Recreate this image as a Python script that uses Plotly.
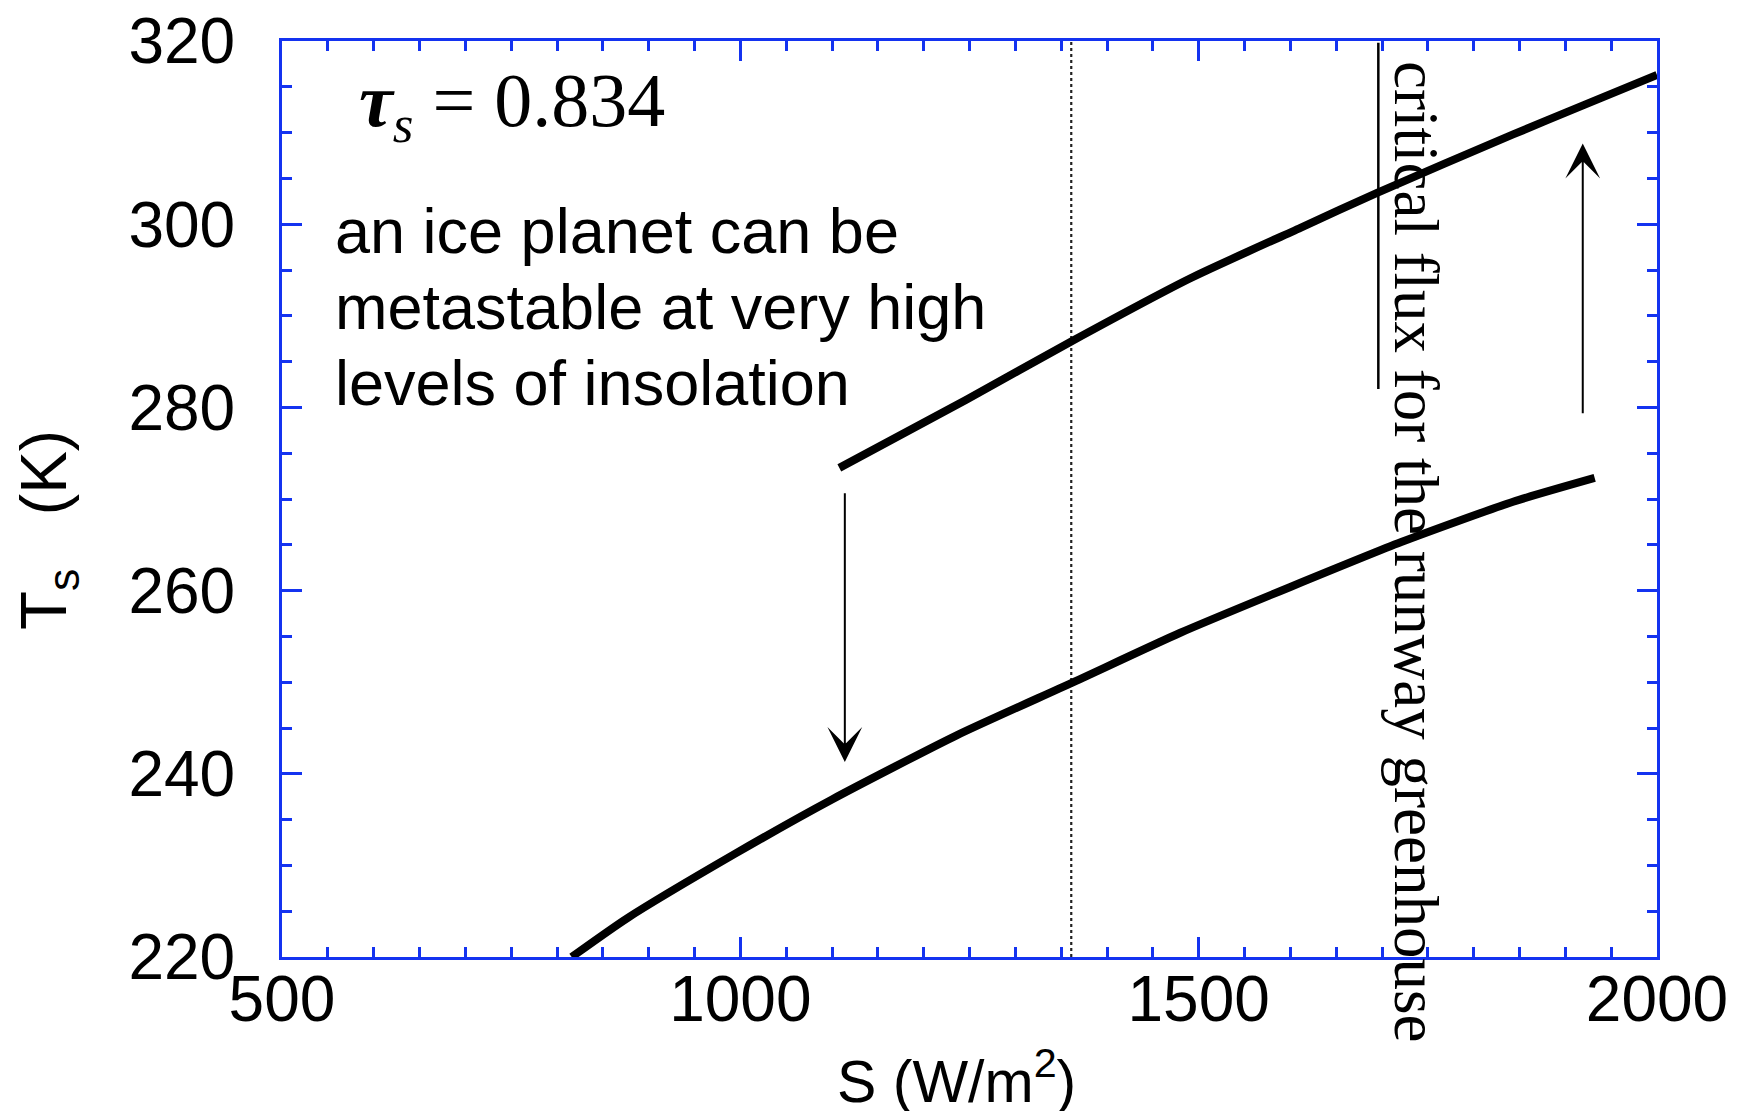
import plotly.graph_objects as go

# ---------------- data ----------------
lower_S = [816, 876, 993, 1100, 1236, 1361, 1480, 1600, 1721, 1843, 1932]
lower_T = [220.0, 224.2, 231.2, 237.2, 244.2, 249.9, 255.4, 260.4, 265.3, 269.7, 272.3]

upper_S = [1108, 1246, 1361, 1491, 1611, 1694, 1843, 1920, 2000]
upper_T = [273.4, 280.8, 287.2, 294.1, 299.6, 303.4, 309.8, 313.0, 316.3]

solar_S = [1361, 1361]
solar_T = [220, 320]

crit_S = [1696, 1696]
crit_T = [282, 319.8]

arrow_down_S = 1114
arrow_down_T = [270.8, 241.3]   # tail, tip
arrow_up_S = 1919
arrow_up_T = [279.2, 308.8]     # tail, tip

x_ticks = [500, 1000, 1500, 2000]
y_ticks = [220, 240, 260, 280, 300, 320]

BLUE = "#1433f0"
SANS = "Liberation Sans, Arial, Helvetica, sans-serif"
SERIF = "Liberation Serif, Times New Roman, serif"

# page offset (default body margin of the html page)
OFF = 8
# plot-area pixel geometry in page coordinates
L, R, T, B = 282, 1657, 41, 957
FIG_W, FIG_H = 1745 - 2 * OFF, 1119 - 2 * OFF


def px(xp):
    return (xp - L) / (R - L)


def py(yp):
    return (B - yp) / (B - T)


fig = go.Figure()

fig.add_trace(go.Scatter(x=solar_S, y=solar_T, mode="lines",
                         line=dict(color="#222222", width=2.2, dash="dot"),
                         showlegend=False))
fig.add_trace(go.Scatter(x=crit_S, y=crit_T, mode="lines",
                         line=dict(color="black", width=2.5),
                         showlegend=False))
fig.add_trace(go.Scatter(x=lower_S, y=lower_T, mode="lines",
                         line=dict(color="black", width=8, shape="spline", smoothing=0.6),
                         showlegend=False))
fig.add_trace(go.Scatter(x=upper_S, y=upper_T, mode="lines",
                         line=dict(color="black", width=8, shape="spline", smoothing=0.6),
                         showlegend=False))

# arrows
for s, (t0, t1) in [(arrow_down_S, arrow_down_T), (arrow_up_S, arrow_up_T)]:
    fig.add_annotation(x=s, y=t1, ax=s, ay=t0, xref="x", yref="y",
                       axref="x", ayref="y", text="", showarrow=True,
                       arrowhead=3, arrowsize=2.9, arrowwidth=2,
                       arrowcolor="black", standoff=0, startstandoff=0)

# tau label
fig.add_annotation(x=px(357), y=py(106), xref="paper", yref="paper",
                   xanchor="left", yanchor="middle", showarrow=False,
                   text="<b><i>τ</i></b><sub><i>s</i></sub> = 0.834",
                   font=dict(family=SERIF, size=76, color="black"))

# description text
lines = ["an ice planet can be", "metastable at very high", "levels of insolation"]
for i, ln in enumerate(lines):
    fig.add_annotation(x=px(333), y=py(231 + 76 * i), xref="paper", yref="paper",
                       xanchor="left", yanchor="middle", showarrow=False,
                       text=ln, font=dict(family=SANS, size=63, color="black"))

# vertical critical flux text
fig.add_annotation(x=px(1416), y=py(551), xref="paper", yref="paper",
                   xanchor="center", yanchor="middle", showarrow=False,
                   textangle=90,
                   text="critical flux for the runway greenhouse",
                   font=dict(family=SERIF, size=63, color="black"))

# axis titles
fig.add_annotation(x=px(956), y=py(1077), xref="paper", yref="paper",
                   xanchor="center", yanchor="middle", showarrow=False,
                   text="S (W/m<sup>2</sup>)",
                   font=dict(family=SANS, size=59, color="black"))
fig.add_annotation(x=px(48), y=py(530), xref="paper", yref="paper",
                   xanchor="center", yanchor="middle", showarrow=False,
                   textangle=-90,
                   text="T<sub>s</sub>\u00a0\u00a0\u00a0(K)",
                   font=dict(family=SANS, size=64, color="black"))

axis_common = dict(showline=True, linecolor=BLUE, linewidth=3, mirror="allticks",
                   ticks="inside", ticklen=20, tickwidth=3, tickcolor=BLUE,
                   showgrid=False, zeroline=False, ticklabeloverflow="allow",
                   automargin=False,
                   tickfont=dict(family=SANS, size=64, color="black"))

fig.update_xaxes(range=[500, 2000], tickvals=x_ticks,
                 ticktext=[str(v) for v in x_ticks],
                 minor=dict(dtick=50, tick0=500, ticks="inside", ticklen=10,
                            tickwidth=3, tickcolor=BLUE, showgrid=False),
                 ticklabelstandoff=-16, **axis_common)
fig.update_yaxes(range=[220, 320], tickvals=y_ticks,
                 ticktext=[str(v) for v in y_ticks],
                 minor=dict(dtick=5, tick0=220, ticks="inside", ticklen=10,
                            tickwidth=3, tickcolor=BLUE, showgrid=False),
                 ticklabelstandoff=31, **axis_common)

fig.update_layout(width=FIG_W, height=FIG_H,
                  margin=dict(l=L - OFF, r=FIG_W - (R - OFF),
                              t=T - OFF, b=FIG_H - (B - OFF)),
                  plot_bgcolor="white", paper_bgcolor="white",
                  showlegend=False)

fig.write_html("out.html")
